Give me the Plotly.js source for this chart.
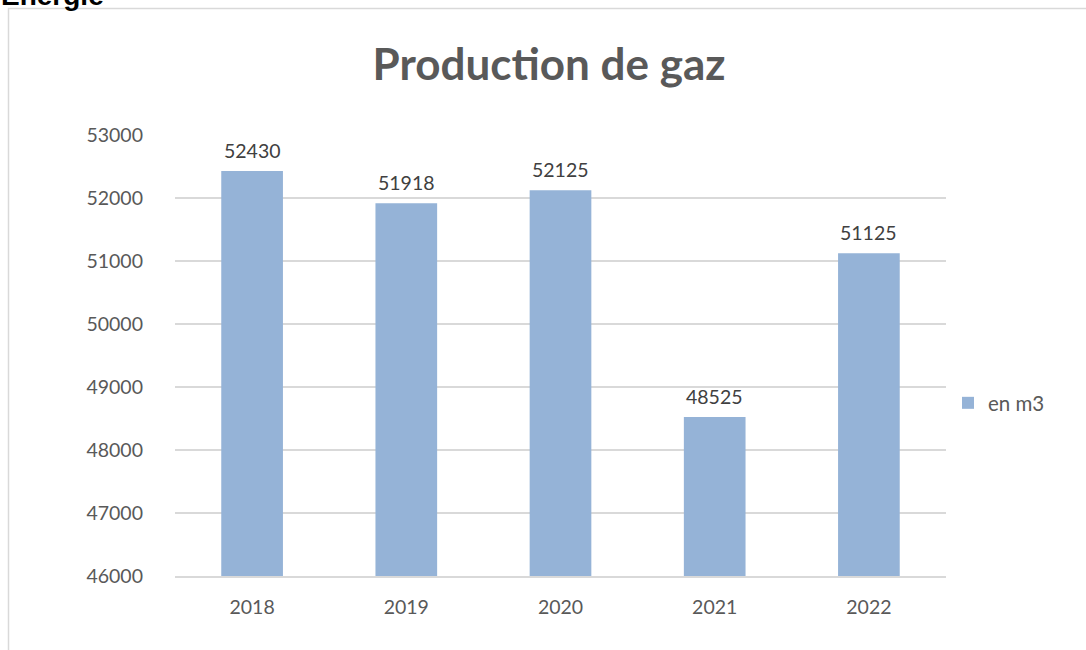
<!DOCTYPE html>
<html><head><meta charset="utf-8">
<script src="https://cdn.plot.ly/plotly-3.0.1.min.js"></script>
<style>html,body{margin:0;padding:0;background:#fff}#chart{width:1086px;height:650px}</style>
</head><body><div id="chart"></div>
<script>
const years = ['2018','2019','2020','2021','2022'];
const values = [52430, 51918, 52125, 48525, 51125];
const seriesName = 'en m3';
const titleText = 'Production de gaz';
const headerText = 'Energie';

const L=175, R=140, T=135, B=74, W=1086, H=650;
const pw = W-L-R, ph = H-T-B;
const px = x => (x-L)/pw;
const py = y => (H-B-y)/ph;
const FONT = 'Lato, sans-serif';

const labelAnns = years.map((yr,i)=>({
  x: yr, y: values[i], xref:'x', yref:'y', text: String(values[i]),
  showarrow:false, xanchor:'center', yanchor:'bottom', yshift:7,
  font:{family:FONT, size:19.5, color:'#404040'}
}));

Plotly.newPlot('chart', [{
  type:'bar', x: years, y: values, name: seriesName,
  marker:{color:'#95b3d7'}
}], {
  width:W, height:H,
  margin:{l:L, r:R, t:T, b:B, pad:0},
  paper_bgcolor:'#fff', plot_bgcolor:'#fff',
  bargap:0.6,
  showlegend:true,
  legend:{x:px(948), y:py(403), xanchor:'left', yanchor:'middle',
    font:{family:FONT, size:20.5, color:'#595959'}, itemwidth:30},
  title:{text:titleText, x:px(549), xanchor:'center', xref:'paper', y:1-65/H, yanchor:'middle',
    font:{family:FONT, size:44, color:'#595959', weight:'bold'}},
  xaxis:{showgrid:false, showline:true, linecolor:'#d9d9d9', linewidth:1.5, ticks:'',
    tickfont:{family:FONT, size:19.5, color:'#595959'}, ticklabelstandoff:13},
  yaxis:{range:[46000,53000], dtick:1000, tick0:46000, showgrid:true, gridcolor:'#d9d9d9', gridwidth:1.5,
    zeroline:false, showline:false, ticks:'', tickformat:'d',
    tickfont:{family:FONT, size:19.5, color:'#595959'}, ticklabelstandoff:31},
  shapes:[{type:'rect', xref:'paper', yref:'paper', x0:px(8.5), x1:px(1200), y0:py(800), y1:py(8.5),
    line:{color:'#d9d9d9', width:1.5}, fillcolor:'rgba(0,0,0,0)', layer:'below'}],
  annotations:labelAnns.concat([{text:'<b>'+headerText+'</b>', xref:'paper', yref:'paper', x:px(-1), y:py(-5),
    xanchor:'left', yanchor:'middle', showarrow:false,
    font:{family:'Liberation Sans, Arial, sans-serif', size:28, color:'#000'}}])
}, {displayModeBar:false});
</script></body></html>
